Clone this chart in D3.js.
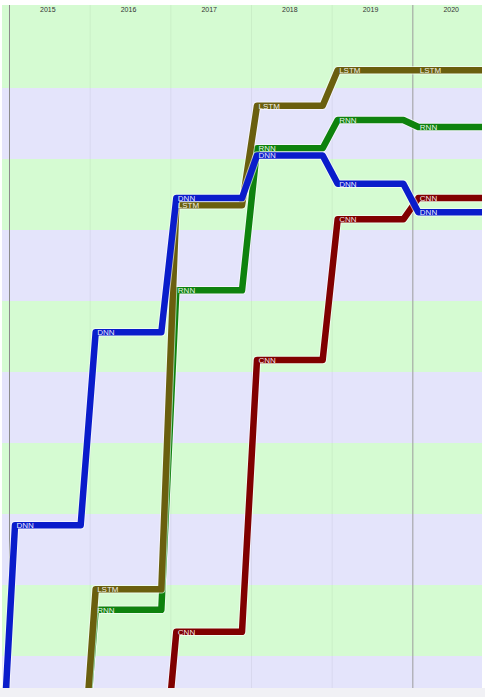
<!DOCTYPE html>
<html>
<head>
<meta charset="utf-8">
<script src="https://cdn.jsdelivr.net/npm/d3@7/dist/d3.min.js"></script>
<style>
body { margin: 0; background: #fff; }
svg { display: block; }
.lbl { font-family: "Liberation Sans Narrow", "Arial Narrow", "Liberation Sans", sans-serif; }
</style>
</head>
<body>
<div id="chart"></div>
<script>

// Year columns and the value of each model in every year (null = not there yet)
var years = [2015, 2016, 2017, 2018, 2019, 2020];
var models = ["CNN", "RNN", "LSTM", "DNN"];   // drawing order, last on top
var dnnValues  = [28.4, 55.6, 74.5, 80.5, 76.5, 72.5];
var lstmValues = [null, 19.4, 73.5, 87.5, 92.5, 92.5];
var rnnValues  = [null, 16.5, 61.5, 81.5, 85.5, 84.5];
var cnnValues  = [null, null, 13.4, 51.7, 71.5, 74.5];
var entryValue = -10;   // models come in from below the visible area

var seriesValues = { DNN: dnnValues, LSTM: lstmValues, RNN: rnnValues, CNN: cnnValues };
var colors = { DNN: "#0a1ccb", LSTM: "#6a5f0e", RNN: "#0e820e", CNN: "#800000" };

var width = 485, height = 697;
var plot = { left: 2, right: 482, top: 5, bottom: 688 };

var svg = d3.select("#chart").append("svg")
    .attr("width", width)
    .attr("height", height);

// Scales
var x = d3.scaleBand()
    .domain(years)
    .range([9, 493]);

var y = d3.scaleLinear()
    .domain([0, 100])
    .range([727, 17]);

svg.append("defs").append("clipPath")
    .attr("id", "plotclip")
    .append("rect")
    .attr("x", plot.left)
    .attr("y", plot.top)
    .attr("width", plot.right - plot.left)
    .attr("height", plot.bottom - plot.top);

var g = svg.append("g").attr("clip-path", "url(#plotclip)");

// background: base green then alternating bands every 10 units
g.append("rect")
    .attr("x", plot.left).attr("y", plot.top)
    .attr("width", plot.right - plot.left)
    .attr("height", plot.bottom - plot.top)
    .attr("fill", "#d5fbd2");

var bandStarts = y.ticks(10).slice(0, -1);
g.selectAll(".band")
    .data(bandStarts)
    .enter().append("rect")
    .attr("class", "band")
    .attr("x", plot.left)
    .attr("width", plot.right - plot.left)
    .attr("y", function(d) { return y(d + 10); })
    .attr("height", function(d) { return y(d) - y(d + 10); })
    .attr("fill", function(d) { return (d / 10) % 2 === 1 ? "#d5fbd2" : "#e4e4fb"; });

// column separators
g.selectAll(".sep")
    .data(years)
    .enter().append("line")
    .attr("class", "sep")
    .attr("x1", function(d) { return x(d) + 0.5; })
    .attr("x2", function(d) { return x(d) + 0.5; })
    .attr("y1", plot.top).attr("y2", plot.bottom)
    .attr("stroke", function(d, i) {
        if (i === 0) return "#8c8c8c";
        if (i === years.length - 1) return "#9c9c9c";
        return "rgba(0,0,0,0.05)";
    })
    .attr("stroke-width", 1);

// year labels
svg.selectAll(".year")
    .data(years)
    .enter().append("text")
    .attr("class", "year lbl")
    .attr("x", function(d) { return x(d) + x.bandwidth() / 2 - 1.5; })
    .attr("y", 12)
    .attr("text-anchor", "middle")
    .attr("font-size", 7)
    .attr("fill", "#333")
    .text(function(d) { return d; });

// build the step path of one model
function seriesPoints(vals) {
    var pts = [];
    vals.forEach(function(v, i) {
        if (v === null) return;
        var yr = years[i];
        if (pts.length === 0) pts.push([x(yr) - 9, y(entryValue)]);
        pts.push([x(yr) + 6, y(v)]);
        pts.push([i === years.length - 1 ? plot.right : x(yr) + x.bandwidth() - 9, y(v)]);
    });
    return pts;
}

var line = d3.line().curve(d3.curveLinear);

var lines = g.selectAll(".model")
    .data(models)
    .enter().append("g")
    .attr("class", "model");

lines.append("path")
    .attr("d", function(d) { return line(seriesPoints(seriesValues[d])); })
    .attr("fill", "none")
    .attr("stroke", "#fff")
    .attr("stroke-opacity", 0.6)
    .attr("stroke-width", 8.5)
    .attr("stroke-linejoin", "round");

lines.append("path")
    .attr("d", function(d) { return line(seriesPoints(seriesValues[d])); })
    .attr("fill", "none")
    .attr("stroke", function(d) { return colors[d]; })
    .attr("stroke-width", 6.5)
    .attr("stroke-linejoin", "round");

// labels at the start of every year segment
var labelData = [];
models.forEach(function(m) {
    seriesValues[m].forEach(function(v, i) {
        if (v !== null) labelData.push({ model: m, year: years[i], value: v });
    });
});

g.selectAll(".point-label")
    .data(labelData)
    .enter().append("text")
    .attr("class", "point-label lbl")
    .attr("x", function(d) { return x(d.year) + 7.5; })
    .attr("y", function(d) { return y(d.value) + 3; })
    .attr("font-size", 8)
    .attr("fill", "#fff")
    .attr("fill-opacity", 0.92)
    .text(function(d) { return d.model; });

// bottom browser strip
svg.append("rect")
    .attr("x", 0).attr("y", plot.bottom)
    .attr("width", width).attr("height", height - plot.bottom)
    .attr("fill", "#f1f1f5");

</script>
</body>
</html>
